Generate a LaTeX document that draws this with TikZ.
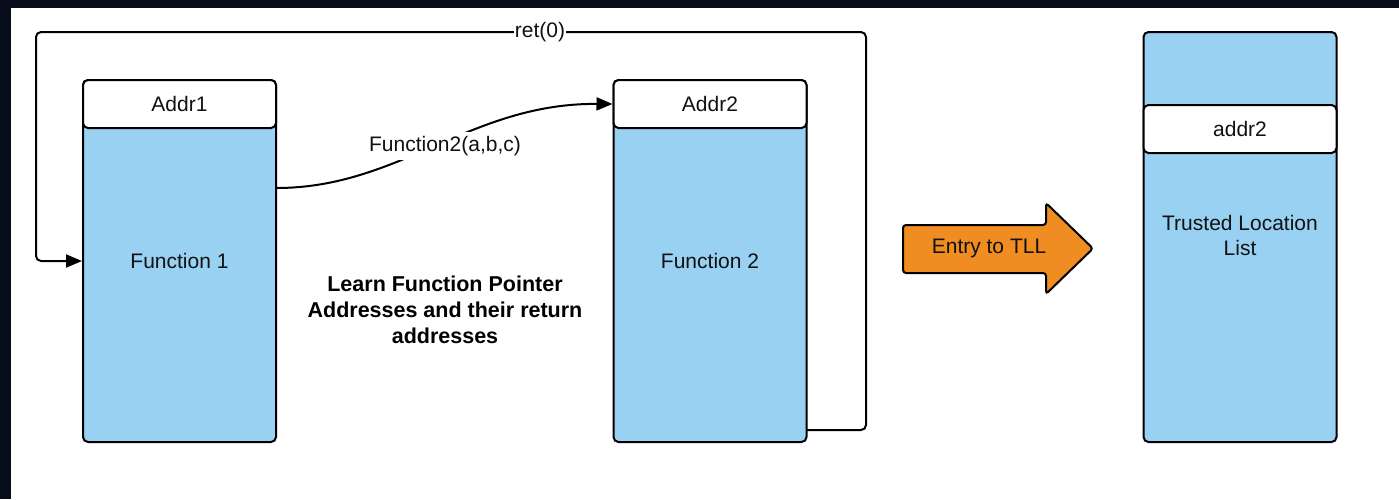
\documentclass[tikz,border=0pt]{standalone}
\usepackage{fontspec}
\setmainfont{Liberation Sans}
\usetikzlibrary{arrows.meta}

\definecolor{frameDark}{RGB}{8,13,28}
\definecolor{boxBlue}{RGB}{153,209,242}
\definecolor{arrowOrange}{RGB}{240,141,34}
\definecolor{inkText}{RGB}{17,17,17}

\tikzset{
  stack/.style={draw=black, line width=2pt, rounded corners=5pt, fill=boxBlue,
                minimum width=193pt, inner sep=0pt},
  slot/.style={draw=black, line width=2pt, rounded corners=5pt, fill=white,
               minimum width=193pt, minimum height=48pt, inner sep=0pt,
               font=\fontsize{21}{25}\selectfont, text=inkText},
  plain/.style={font=\fontsize{21}{25}\selectfont, text=inkText, inner sep=0pt},
  boldnote/.style={font=\fontsize{21.5}{26}\selectfont\bfseries, text=black,
                   align=center, inner sep=0pt},
  link/.style={draw=black, line width=2pt},
  tip/.style={-{Triangle[length=16pt,width=13pt]}},
  tag/.style={fill=white, inner xsep=0.5pt, inner ysep=3pt,
              font=\fontsize{21}{25}\selectfont, text=inkText}
}

\begin{document}
\begin{tikzpicture}[x=1pt, y=-1pt]
  % canvas and dark edges
  \useasboundingbox (0,0) rectangle (1399,499);
  \fill[white] (0,0) rectangle (1399,499);
  \fill[frameDark] (0,0) rectangle (1399,7.5);
  \fill[frameDark] (0,0) rectangle (11,499);

  % Function 1 frame
  \node[stack, minimum height=362pt] (f1) at (179.5,261) {};
  \node[slot] (hdr1) at (179.5,104) {Addr1};
  \node[plain] (f1txt) at (179.5,261) {Function 1};

  % Function 2 frame
  \node[stack, minimum height=362pt] (f2) at (710,261) {};
  \node[slot] (hdr2) at (710,104) {Addr2};
  \node[plain] (f2txt) at (710,261) {Function 2};

  % Trusted location list
  \node[stack, minimum height=410pt] (tll) at (1240,237) {};
  \node[slot] (tlladdr) at (1240,129) {addr2};
  \node[plain, align=center, font=\fontsize{21}{25}\selectfont] (tlltxt) at (1240,235)
       {Trusted Location\\List};

  % return path from Function 2 back to Function 1
  \coordinate (retstart) at (806.5,430);
  \coordinate (retright) at (866,32);
  \coordinate (retleft) at (36,261);
  \draw[link, tip, rounded corners=5pt]
       (retstart) -| (retright) -| (retleft) -- (f1.west);
  \node[tag] (retlbl) at (540,32) {ret(0)};

  % call from Function 1 into Function 2
  \coordinate (callout) at (276.5,188);
  \draw[link, tip] (callout) .. controls (400,188) and (470,103) .. (hdr2.west);
  \node[tag, inner xsep=2pt, inner ysep=4.5pt] (calllbl) at (445,146) {Function2(a,b,c)};

  % note
  \node[boldnote] (note) at (445,310)
       {Learn Function Pointer\\Addresses and their return\\addresses};

  % orange block arrow
  \draw[line width=2pt, fill=arrowOrange, rounded corners=3pt]
       (903,225) -- (1046,225) -- (1046,203) -- (1093,248.5)
       -- (1046,294) -- (1046,273) -- (903,273) -- cycle;
  \node[plain] (entry) at (989,248) {Entry to TLL};
\end{tikzpicture}
\end{document}
